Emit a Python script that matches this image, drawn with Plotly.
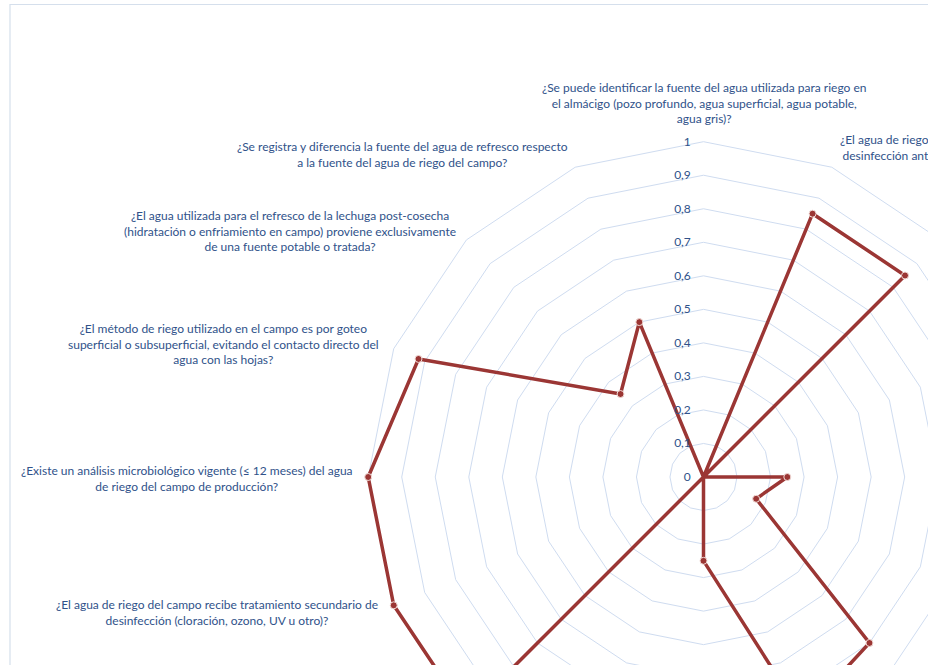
import math
import plotly.graph_objects as go

# ---------------- data ----------------
categories = [
    "¿Se puede identificar la fuente del agua utilizada para riego en<br>el almácigo (pozo profundo, agua superficial, agua potable,<br>agua gris)?",
    "¿El agua de riego del almácigo recibe tratamiento de<br>desinfección antes de ser utilizada en las plántulas?",
    "¿Existe un análisis microbiológico vigente del agua<br>de riego del almácigo?",
    "¿Se registra el volumen y la frecuencia de riego<br>en el almácigo?",
    "¿Se puede identificar la fuente del agua utilizada<br>para riego en el campo de producción?",
    "¿La fuente de agua del campo está protegida de<br>contaminación por animales o escorrentías?",
    "¿Se inspecciona periódicamente el sistema de<br>distribución del agua de riego?",
    "¿Se respeta un intervalo entre el último riego<br>y la cosecha?",
    "¿El agua de riego del campo se almacena en<br>reservorios cubiertos?",
    "¿Se aplica una acción correctiva cuando el análisis<br>del agua no es conforme?",
    "¿Se registran los tratamientos aplicados al agua<br>de riego del campo?",
    "¿El agua de riego del campo recibe tratamiento secundario de<br>desinfección (cloración, ozono, UV u otro)?",
    "¿Existe un análisis microbiológico vigente (≤ 12 meses) del agua<br>de riego del campo de producción?",
    "¿El método de riego utilizado en el campo es por goteo<br>superficial o subsuperficial, evitando el contacto directo del<br>agua con las hojas?",
    "¿El agua utilizada para el refresco de la lechuga post-cosecha<br>(hidratación o enfriamiento en campo) proviene exclusivamente<br>de una fuente potable o tratada?",
    "¿Se registra y diferencia la fuente del agua de refresco respecto<br>a la fuente del agua de riego del campo?",
]
values = [0, 0.85, 0.85, 0, 0.25, 0.17, 0.70, 0.77, 0.25, 0, 1.0, 1.0, 1.0, 0.92, 0.35, 0.50]

radial_tickvals = [0, 0.1, 0.2, 0.3, 0.4, 0.5, 0.6, 0.7, 0.8, 0.9, 1]
radial_ticktext = ["0", "0,1", "0,2", "0,3", "0,4", "0,5", "0,6", "0,7", "0,8", "0,9", "1"]

# label placement tweaks (pixels) per category
label_xshift = [0, 6, 8, 13, 13, 13, 14, 8, 0, -8, -14, -14, -13, -13, -8, -5]
label_yshift = [14, 2, 9, 5, 0, -7, -7, -10, -12, -10, -7, -7, -1, 5, 9, -5]

# ---------------- styling / geometry ----------------
W, H = 1250, 1000
CX, CY, R = 703.5, 477.0, 335.3   # centre and radius (px) of the value-1 ring
RMAX = 1.03                       # small headroom so the line at 1 is not clipped
RO = R * RMAX
RED = "#9b3634"
GRID = "#cfdcf0"
TXT = "#30528a"
FONT = "Lato"

fig = go.Figure()
fig.add_trace(go.Scatterpolar(
    r=values + [values[0]],
    theta=categories + [categories[0]],
    mode="lines+markers",
    line=dict(color=RED, width=3.5),
    marker=dict(size=7, color=RED, line=dict(color="#f2dcd8", width=1)),
    cliponaxis=False,
    hoverinfo="skip",
    showlegend=False,
))

n = len(categories)
annotations = []
for i, cat in enumerate(categories):
    th = math.radians(i * 360.0 / n)
    s, c = math.sin(th), math.cos(th)
    vx = CX + R * s
    vy = CY - R * c
    if abs(s) < 0.1:
        xa = "center"
    else:
        xa = "left" if s > 0 else "right"
    if c > 0.8:
        ya = "bottom"
    elif c < -0.8:
        ya = "top"
    else:
        ya = "middle"
    annotations.append(dict(
        x=vx / W, y=1 - vy / H, xref="paper", yref="paper",
        text=cat, showarrow=False, align="center",
        xanchor=xa, yanchor=ya,
        xshift=label_xshift[i], yshift=label_yshift[i],
        font=dict(family=FONT, size=12, color=TXT),
    ))

fig.update_layout(
    width=W, height=H,
    margin=dict(l=0, r=0, t=0, b=0),
    paper_bgcolor="white",
    plot_bgcolor="white",
    showlegend=False,
    polar=dict(
        domain=dict(x=[(CX - RO) / W, (CX + RO) / W], y=[1 - (CY + RO) / H, 1 - (CY - RO) / H]),
        bgcolor="white",
        gridshape="linear",
        radialaxis=dict(
            range=[0, RMAX],
            tickvals=radial_tickvals,
            ticktext=radial_ticktext,
            angle=90,
            side="counterclockwise",
            showline=False,
            gridcolor=GRID,
            gridwidth=1,
            ticks="outside",
            ticklen=8,
            tickcolor="rgba(0,0,0,0)",
            tickfont=dict(family=FONT, size=12, color=TXT),
            tickangle=90,
        ),
        angularaxis=dict(
            type="category",
            categoryorder="array",
            categoryarray=categories,
            rotation=90,
            direction="clockwise",
            showgrid=False,
            showticklabels=False,
            ticks="",
            showline=False,
        ),
    ),
    annotations=annotations,
    shapes=[dict(
        type="rect", xref="paper", yref="paper",
        x0=10 / W, x1=(W - 1) / W, y0=1 / H, y1=1 - 4.5 / H,
        line=dict(color="#d5dfec", width=1.2), fillcolor="rgba(0,0,0,0)", layer="below",
    )],
)

fig.write_html(
    "out.html",
    config={"displayModeBar": False},
    post_script="document.body.style.margin='0px';document.body.style.overflow='hidden';",
)
